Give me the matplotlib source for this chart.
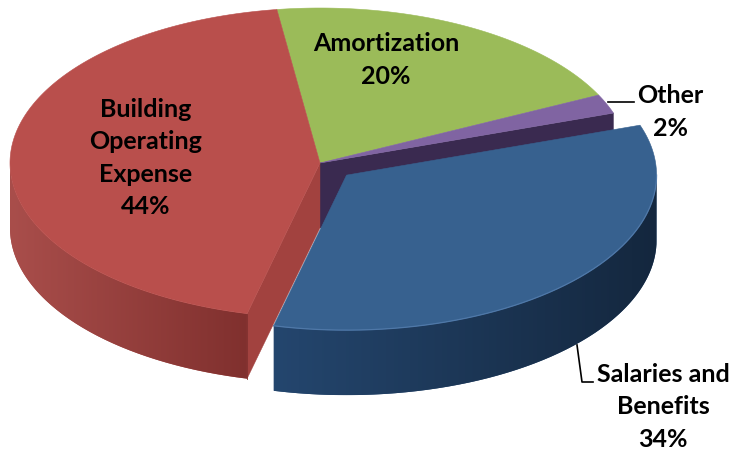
import numpy as np
import matplotlib
matplotlib.use('Agg')
import matplotlib.pyplot as plt
from matplotlib.path import Path
from matplotlib.patches import PathPatch
from matplotlib.colors import to_rgb

# Slices, counter-clockwise from the start angle
labels = ['Building\nOperating\nExpense\n44%', 'Salaries and\nBenefits\n34%', 'Other\n2%', 'Amortization\n20%']
values = [44, 34, 2, 20]
top_colors = ['#B94F4C', '#37618F', '#8064A2', '#9BBB59']
side_left = ['#A94E4B', '#24466E', '#3A2A50', '#6F8A3C']
side_right = ['#80302E', '#14273E', '#3A2A50', '#6F8A3C']
explode = [0, 0.116, 0, 0]

# Pie geometry in pixels
cx, cy = 320, 163
rx, ry = 310, 155
depth = 65
start_angle = 98

fig = plt.figure(figsize=(7.31, 4.5), dpi=100)
ax = fig.add_axes([0, 0, 1, 1])


def arc(a0, a1, x0, y0):
    t = np.radians(np.linspace(a0, a1, max(int(abs(a1 - a0) * 2), 2)))
    return x0 + rx * np.cos(t), y0 - ry * np.sin(t)


def draw_side(i, a0, a1, x0, y0):
    # front wall only (lower half of the ellipse), smooth shading along x
    a0, a1 = max(a0, 180), min(a1, 360)
    if a1 <= a0:
        return
    xs, ys = arc(a0, a1, x0, y0)
    verts = np.r_[np.column_stack([xs, ys]), np.column_stack([xs[::-1], ys[::-1] + depth])]
    verts = np.r_[verts, verts[:1]]
    patch = PathPatch(Path(verts), facecolor=side_left[i], edgecolor='none', zorder=z[i])
    ax.add_patch(patch)
    c0, c1 = np.array(to_rgb(side_left[i])), np.array(to_rgb(side_right[i]))
    grad = np.linspace(c0, c1, 256)[None, :, :]
    im = ax.imshow(grad, extent=[xs.min(), xs.max(), ys.max() + depth, ys.min()],
                   aspect='auto', zorder=z[i] + 0.1, interpolation='bilinear')
    im.set_clip_path(patch)


def draw_top(i, a0, a1, x0, y0):
    xs, ys = arc(a0, a1, x0, y0)
    pts = np.column_stack([np.r_[x0, xs], np.r_[y0, ys]])
    ax.fill(pts[:, 0], pts[:, 1], color=top_colors[i], lw=0.4, zorder=z[i] + 0.5)


# Slice angles from the values
spans = np.array(values) / sum(values) * 360
ends = start_angle + np.cumsum(spans)
starts = ends - spans

z = [3, 5, 2, 1]  # red over purple wall, blue over everything

for i in [3, 2, 0, 1]:
    a0, a1 = starts[i], ends[i]
    mid = np.radians((a0 + a1) / 2)
    x0 = cx + explode[i] * rx * np.cos(mid)
    y0 = cy - explode[i] * ry * np.sin(mid)

    draw_side(i, a0, a1, x0, y0)

    if i == 0:
        # cut wall facing the gap
        xe, ye = arc(a1, a1, x0, y0)
        ax.fill([x0, xe[-1], xe[-1], x0], [y0, ye[-1], ye[-1] + depth, y0 + depth],
                color='#A2423F', lw=0.3, zorder=z[i] + 0.2)
        ax.plot([xe[-1], xe[-1]], [ye[-1], ye[-1] + depth], color='#7E2F2D', lw=0.6, zorder=z[i] + 0.3)
    if i == 2:
        # dark wall under the Other slice, runs back to the centre
        xe, ye = arc(a0, a0, x0, y0)
        ax.fill([x0, xe[-1], xe[-1], x0], [y0, ye[-1], ye[-1] + depth, y0 + depth],
                color='#3A2A50', lw=0.3, zorder=z[i] + 0.2)

    draw_top(i, a0, a1, x0, y0)

    if i == 1:
        # light rim along the front edge of the blue slice
        xs, ys = arc(a0, 360, x0, y0)
        ax.plot(xs, ys, color='#4F78A8', lw=0.9, zorder=z[i] + 0.6)

# Leader lines
ax.plot([608, 634], [102, 102], color='black', lw=1.2, zorder=8)
ax.plot([577, 582, 593], [345, 382, 382], color='black', lw=1.2, zorder=8)

# Labels
label_pos = [(146, 158), (663, 407), (670, 112), (386, 60)]
for txt, (x, y) in zip(labels, label_pos):
    ax.text(x, y, txt, ha='center', va='center', fontsize=18, fontweight='bold',
            family='Lato', color='black', linespacing=1.48, zorder=9)

ax.set_xlim(0, 731)
ax.set_ylim(450, 0)
ax.axis('off')

fig.savefig('out.png', dpi=100)
